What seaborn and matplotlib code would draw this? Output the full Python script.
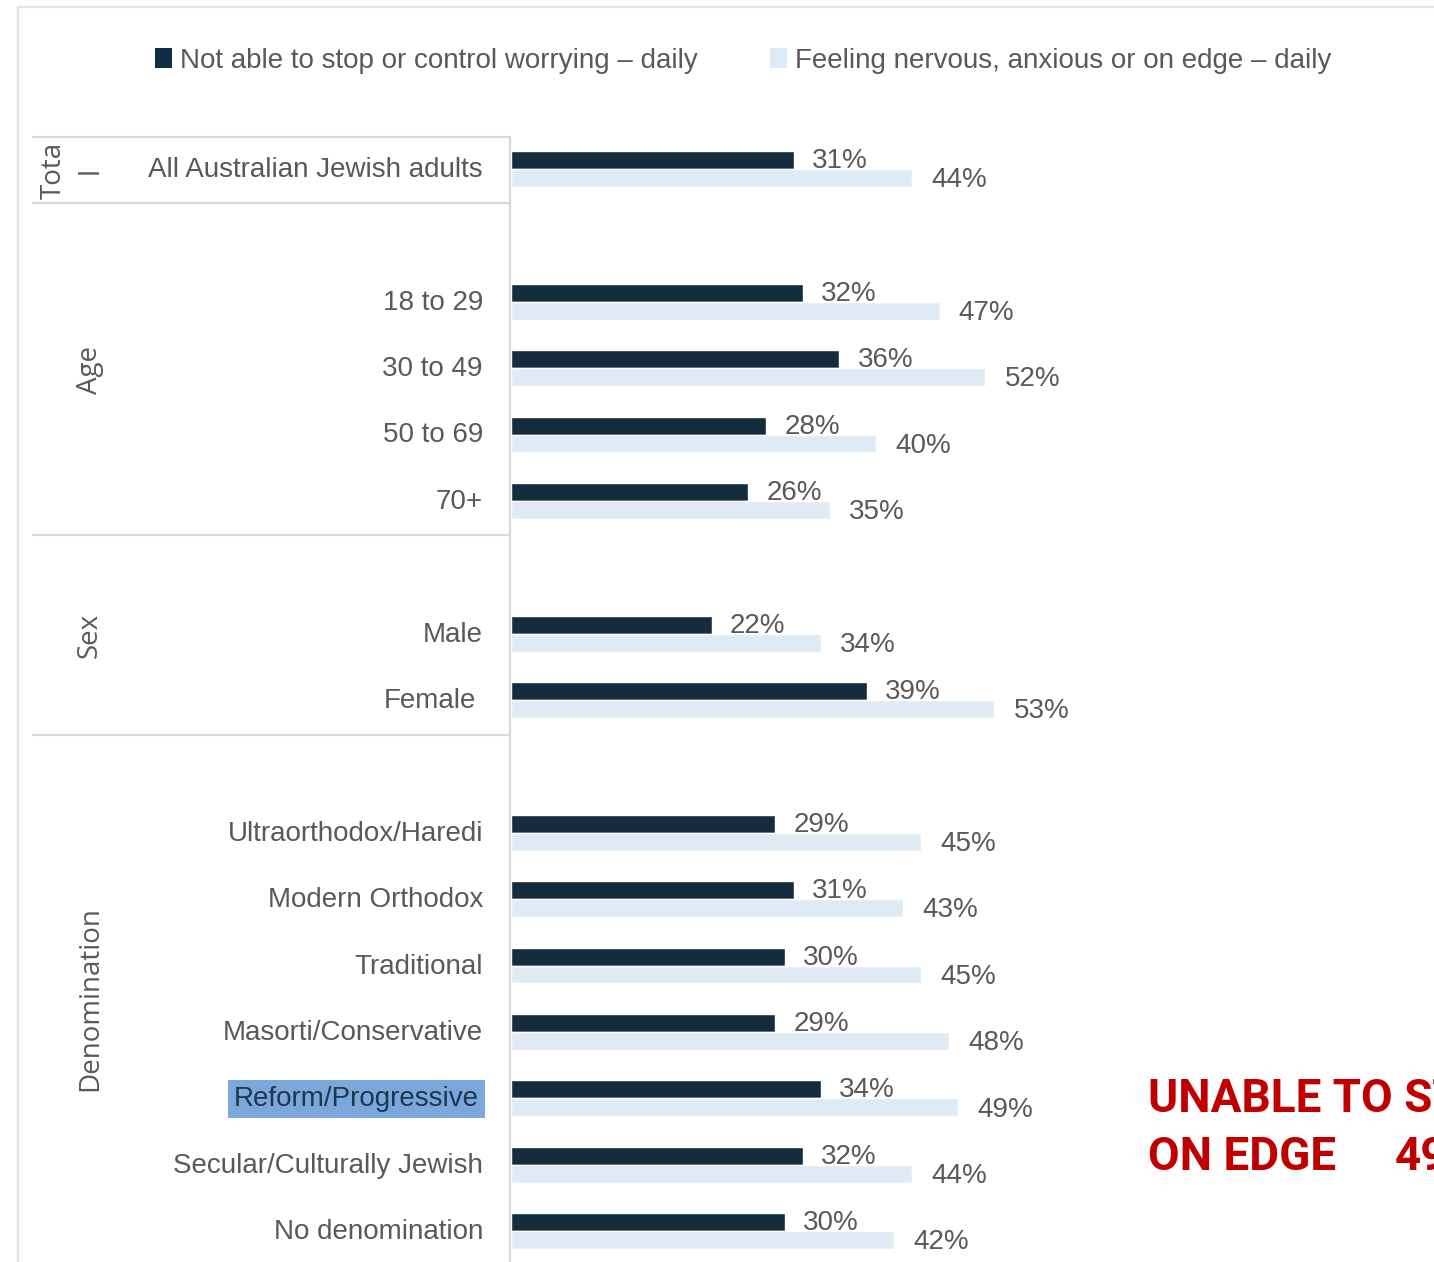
import numpy as np
import pandas as pd
import matplotlib
matplotlib.use("Agg")
import matplotlib.pyplot as plt
from matplotlib.patches import Patch
from matplotlib.lines import Line2D
import seaborn as sns

# data
labels = ["All Australian Jewish adults", "18 to 29", "30 to 49", "50 to 69", "70+",
          "Male", "Female",
          "Ultraorthodox/Haredi", "Modern Orthodox", "Traditional", "Masorti/Conservative",
          "Reform/Progressive", "Secular/Culturally Jewish", "No denomination"]
rows = [0, 2, 3, 4, 5, 7, 8, 10, 11, 12, 13, 14, 15, 16]   # row slots, gaps between groups
worry = [31, 32, 36, 28, 26, 22, 39, 29, 31, 30, 29, 34, 32, 30]
nervous = [44, 47, 52, 40, 35, 34, 53, 45, 43, 45, 48, 49, 44, 42]
series = ["Not able to stop or control worrying \u2013 daily",
          "Feeling nervous, anxious or on edge \u2013 daily"]
groups = ["Age", "Sex", "Denomination"]
group_rows = [3.03, 7.02, 12.5]

W, H = 1434, 1262
DARK = "#0E2E42"
LIGHT = "#DDEAF7"
GREY = "#595959"
FONT = ["Liberation Sans Narrow", "Liberation Sans", "DejaVu Sans"]

sns.set_theme(style="white")
plt.rcParams["font.family"] = FONT

df = pd.DataFrame({
    "row": rows * 2,
    "value": worry + nervous,
    "series": [series[0]] * len(rows) + [series[1]] * len(rows),
})

fig = plt.figure(figsize=(W / 100, H / 100), dpi=100)
fig.patch.set_facecolor("white")

px_per_pct = 9.12
row_px = 66.375
row0_px = 169
ax = fig.add_axes([511 / W, 0, (W - 511) / W, 1])
sns.barplot(data=df, x="value", y="row", hue="series", hue_order=series,
            orient="h", native_scale=True, width=0.54, dodge=True,
            palette=[DARK, LIGHT], legend=False, ax=ax)
ax.set_xlim(0, (W - 511) / px_per_pct)
ax.set_ylim((H - row0_px) / row_px, -row0_px / row_px)
ax.set_axis_off()

for r, a, b in zip(rows, worry, nervous):
    ax.text(a + 2.0, r - 0.12, f"{a}%", va="center", ha="left", fontsize=20, color=GREY)
    ax.text(b + 2.1, r + 0.17, f"{b}%", va="center", ha="left", fontsize=20, color=GREY)


def fy(py):
    return 1 - py / H


def fx(px):
    return px / W


# category labels
for lab, r in zip(labels, rows):
    y = fy(row0_px + r * row_px + 1)
    if lab == "Reform/Progressive":
        fig.text(fx(479), y, lab, ha="right", va="center", fontsize=20, color="#1F3550",
                 bbox=dict(boxstyle="square,pad=0.22", facecolor="#7BA8DA", edgecolor="none"))
    elif lab == "Female":
        fig.text(fx(476), y, lab, ha="right", va="center", fontsize=20, color=GREY)
    else:
        fig.text(fx(483), y, lab, ha="right", va="center", fontsize=20, color=GREY)

# group labels
gfont = ["Open Sans", "DejaVu Sans"]
fig.text(fx(54), fy(170), "Tota", rotation=90, ha="center", va="center",
         fontsize=20, color=GREY, family=gfont)
fig.text(fx(91), fy(170), "l", rotation=90, ha="center", va="center",
         fontsize=20, color=GREY, family=gfont)
for g, r in zip(groups, group_rows):
    fig.text(fx(90), fy(row0_px + r * row_px), g, rotation=90, ha="center", va="center",
             fontsize=20, color=GREY, family=gfont)

# table frame lines
lc = "#D9D9D9"
for py in [137, 203, 535, 735]:
    fig.add_artist(Line2D([fx(33), fx(510)], [fy(py), fy(py)], color=lc, lw=1.6))
fig.add_artist(Line2D([fx(510), fx(510)], [fy(137), 0], color=lc, lw=1.6))
fig.add_artist(Line2D([fx(18), fx(18)], [fy(7), 0], color="#E3E3E3", lw=1.6))
fig.add_artist(Line2D([fx(18), 1], [fy(7), fy(7)], color="#E3E3E3", lw=1.6))

# legend
handles = [Patch(facecolor=DARK, edgecolor="none"), Patch(facecolor=LIGHT, edgecolor="none")]
fig.legend(handles, series, loc="center left", bbox_to_anchor=(fx(144), fy(61)),
           ncol=2, frameon=False, fontsize=20, handlelength=0.6, handleheight=0.75,
           handletextpad=0.3, columnspacing=2.6, labelcolor=GREY, borderaxespad=0)

# red annotation (runs off the right edge as in the source)
RED = "#C00000"
rfont = ["Roboto", "Liberation Sans"]
fig.text(fx(1148), fy(1099), "UNABLE TO STOP", ha="left", va="center", fontsize=33,
         color=RED, fontweight="bold", family=rfont)
fig.text(fx(1148), fy(1157), "ON EDGE", ha="left", va="center", fontsize=33,
         color=RED, fontweight="bold", family=rfont)
fig.text(fx(1395), fy(1157), "49%", ha="left", va="center", fontsize=33,
         color=RED, fontweight="bold", family=rfont)

fig.savefig("out.png", dpi=100, facecolor="white")
